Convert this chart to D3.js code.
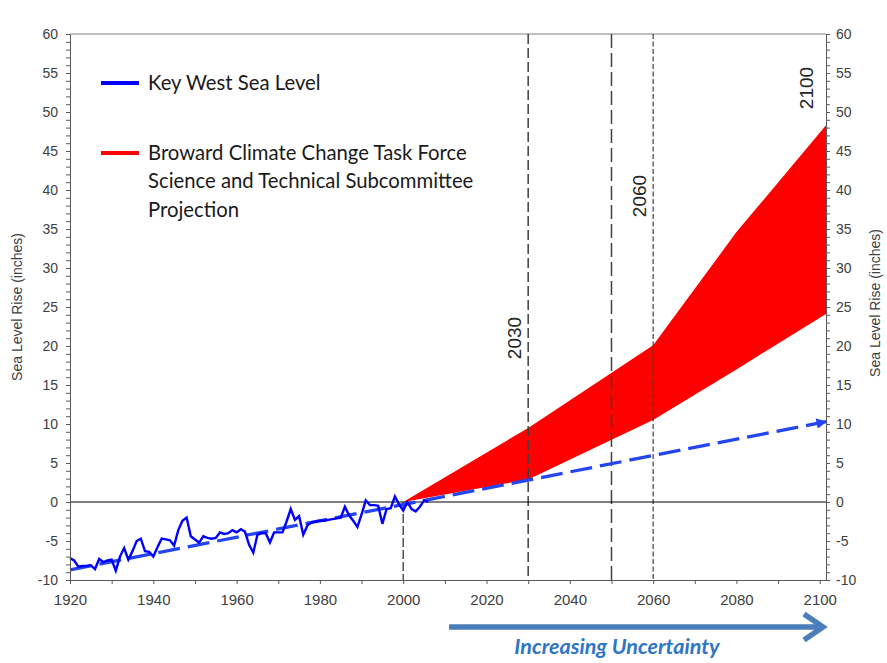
<!DOCTYPE html>
<html>
<head>
<meta charset="utf-8">
<script src="https://cdn.jsdelivr.net/npm/d3@7"></script>
<style>
  html, body { margin: 0; padding: 0; background: #fff; }
  svg { display: block; }
</style>
</head>
<body>
<svg id="chart" width="887" height="663"></svg>
<script>
// ---------- data ----------
const keyWestYears = d3.range(1920, 2007);
const keyWestLevel = [
  -7.2, -7.5, -8.3, -8.2, -8.2, -8.1, -8.6, -7.3, -7.7, -7.5,
  -7.4, -8.8, -7.0, -5.9, -7.4, -6.3, -5.0, -4.7, -6.3, -6.4,
  -7.0, -5.8, -4.7, -4.8, -4.9, -5.6, -3.6, -2.4, -2.0, -4.4,
  -4.8, -5.2, -4.4, -4.6, -4.7, -4.6, -3.9, -4.1, -4.0, -3.6,
  -3.9, -3.5, -3.8, -5.5, -6.5, -4.2, -4.0, -4.0, -5.2, -3.9,
  -3.9, -3.9, -2.5, -0.9, -2.3, -1.8, -4.2, -3.0, -2.6, -2.5,
  -2.4, -2.4, -2.3, -2.2, -2.1, -2.0, -0.6, -1.7, -2.4, -3.2,
  -1.6, 0.2, -0.4, -0.4, -0.5, -2.8, -0.9, -0.8, 0.7, -0.3,
  -1.1, 0.0, -0.9, -1.2, -0.6, 0.2, 0.0
];
const trendYears = [1920, 2101.5];
const trendLevel = [-8.7, 10.3];
const projYears = [2000, 2030, 2060, 2080, 2101.5];
const projLow   = [0, 2.9, 10.5, 17.0, 24.1];
const projHigh  = [0, 9.5, 20.1, 34.6, 48.3];
const markerYears  = [2030, 2050, 2060];
const markerLabels = [
  {year: 2030, text: "2030", yCenter: 338},
  {year: 2060, text: "2060", yCenter: 196},
  {year: 2101.5, text: "2100", yCenter: 88}
];
const xTicks = d3.range(1920, 2101, 10);
const yTicks = d3.range(-10, 61, 1);
const yTitle = "Sea Level Rise (inches)";
const legendItems = [
  {color: "#0000ff", lines: ["Key West Sea Level"]},
  {color: "#ff0000", lines: ["Broward Climate Change Task Force", "Science and Technical Subcommittee", "Projection"]}
];
const arrowText = "Increasing Uncertainty";
const arrowYears = [2011, 2101.5];

// ---------- layout ----------
const svg = d3.select("#chart");
const L = 70, R = 826, T = 34, B = 580;
const x = d3.scaleLinear().domain([1920, 2101.5]).range([L, R]);
const y = d3.scaleLinear().domain([-10, 60]).range([B, T]);
const axisColor = "#595959";
const labelColor = "#404040";

// frame top
svg.append("line").attr("x1", L).attr("x2", R).attr("y1", T).attr("y2", T)
  .attr("stroke", "#808080").attr("stroke-width", 1);

// projection band
const band = projYears.map((d, i) => ({year: d, lo: projLow[i], hi: projHigh[i]}));
svg.append("path").datum(band)
  .attr("fill", "#ff0000")
  .attr("d", d3.area().x(d => x(d.year)).y0(d => y(d.lo)).y1(d => y(d.hi)));

// vertical marker lines
const dashes = {2030: "10,4", 2050: "14,5", 2060: "5,2.5"};
svg.selectAll("line.marker").data(markerYears).join("line")
  .attr("class", "marker")
  .attr("x1", d => x(d)).attr("x2", d => x(d))
  .attr("y1", T).attr("y2", B)
  .attr("stroke", "#404040").attr("stroke-width", d => d === 2060 ? 1.2 : 1.5)
  .attr("stroke-dasharray", d => dashes[d]);
// 2000 line below zero
svg.append("line")
  .attr("x1", x(2000)).attr("x2", x(2000)).attr("y1", y(0)).attr("y2", B)
  .attr("stroke", "#505050").attr("stroke-width", 1.5).attr("stroke-dasharray", "9,3");

// zero line
svg.append("line").attr("x1", L).attr("x2", R).attr("y1", y(0)).attr("y2", y(0))
  .attr("stroke", "#000").attr("stroke-width", 1);

// marker labels
svg.selectAll("text.mlabel").data(markerLabels).join("text")
  .attr("class", "mlabel")
  .attr("transform", d => `translate(${x(d.year) - (d.year > 2100 ? 13 : 7)},${d.yCenter}) rotate(-90)`)
  .attr("text-anchor", "middle")
  .attr("font-family", "Liberation Sans, Arial, sans-serif")
  .attr("font-size", 19).attr("fill", "#262626")
  .text(d => d.text);

// trend dashed arrow
const defs = svg.append("defs");
defs.append("marker").attr("id", "bluehead")
  .attr("viewBox", "0 0 10 10").attr("refX", 9).attr("refY", 5)
  .attr("markerWidth", 3.2).attr("markerHeight", 3.2).attr("orient", "auto")
  .attr("markerUnits", "strokeWidth")
  .append("path").attr("d", "M0,0 L10,5 L0,10 Z").attr("fill", "#2445f2");
const trend = trendYears.map((d, i) => ({year: d, v: trendLevel[i]}));
svg.append("path").datum(trend)
  .attr("fill", "none").attr("stroke", "#2445f2").attr("stroke-width", 3.3)
  .attr("stroke-dasharray", "22,8")
  .attr("marker-end", "url(#bluehead)")
  .attr("d", d3.line().x(d => x(d.year)).y(d => y(d.v)));

// key west line
const kw = keyWestYears.map((d, i) => ({year: d, v: keyWestLevel[i]}));
svg.append("path").datum(kw)
  .attr("fill", "none").attr("stroke", "#0000ff").attr("stroke-width", 2.4)
  .attr("stroke-linejoin", "miter")
  .attr("d", d3.line().x(d => x(d.year)).y(d => y(d.v)));

// axes
function styleAxis(g) {
  g.selectAll("path.domain").attr("stroke", axisColor);
  g.selectAll(".tick line").attr("stroke", axisColor);
  g.selectAll(".tick text").attr("fill", labelColor)
    .attr("font-family", "Liberation Sans, Arial, sans-serif");
}
const fmtY = d => (d % 5 === 0 ? d : "");
svg.append("g").attr("transform", `translate(${L},0)`)
  .call(d3.axisLeft(y).tickValues(yTicks).tickFormat(fmtY).tickSize(4).tickSizeOuter(0).tickPadding(8))
  .call(styleAxis)
  .call(g => g.selectAll(".tick text").attr("font-size", 14));
svg.append("g").attr("transform", `translate(${R},0)`)
  .call(d3.axisRight(y).tickValues(yTicks).tickFormat(fmtY).tickSize(4).tickSizeOuter(0).tickPadding(6))
  .call(styleAxis)
  .call(g => g.selectAll(".tick text").attr("font-size", 14));
svg.append("g").attr("transform", `translate(0,${B})`)
  .call(d3.axisBottom(x).tickValues(xTicks).tickFormat(d => (d % 20 === 0 ? d : "")).tickSize(4).tickSizeOuter(0).tickPadding(10))
  .call(styleAxis)
  .call(g => g.selectAll(".tick text").attr("font-size", 15));

// axis titles
[{xp: 22, yp: 307}, {xp: 880, yp: 303}].forEach(p => {
  svg.append("text")
    .attr("transform", `translate(${p.xp},${p.yp}) rotate(-90)`)
    .attr("text-anchor", "middle")
    .attr("font-family", "Liberation Sans, Arial, sans-serif")
    .attr("font-size", 14).attr("fill", labelColor)
    .text(yTitle);
});

// legend
const legendFont = "Lato, 'Open Sans', sans-serif";
const legTop = [83, 153];
legendItems.forEach((item, i) => {
  svg.append("line").attr("x1", 101).attr("x2", 139)
    .attr("y1", legTop[i]).attr("y2", legTop[i])
    .attr("stroke", item.color).attr("stroke-width", 4);
  item.lines.forEach((ln, j) => {
    svg.append("text").attr("x", 148).attr("y", legTop[i] + 7 + j * 28.3)
      .attr("font-family", legendFont).attr("font-size", 20.3).attr("fill", "#1a1a1a")
      .text(ln);
  });
});

// uncertainty arrow
const ay = 627;
svg.append("line").attr("x1", x(arrowYears[0])).attr("x2", x(arrowYears[1]) - 4)
  .attr("y1", ay).attr("y2", ay)
  .attr("stroke", "#4a7ebb").attr("stroke-width", 5.5);
svg.append("path")
  .attr("d", `M${x(arrowYears[1]) - 22},${ay - 13} L${x(arrowYears[1]) - 3},${ay} L${x(arrowYears[1]) - 22},${ay + 13}`)
  .attr("fill", "none").attr("stroke", "#4a7ebb").attr("stroke-width", 5.5)
  .attr("stroke-linejoin", "miter");
svg.append("text").attr("x", 617).attr("y", 654)
  .attr("text-anchor", "middle")
  .attr("font-family", legendFont).attr("font-size", 21.5)
  .attr("font-style", "italic").attr("font-weight", "bold")
  .attr("fill", "#2e75c6")
  .text(arrowText);
</script>
</body>
</html>
